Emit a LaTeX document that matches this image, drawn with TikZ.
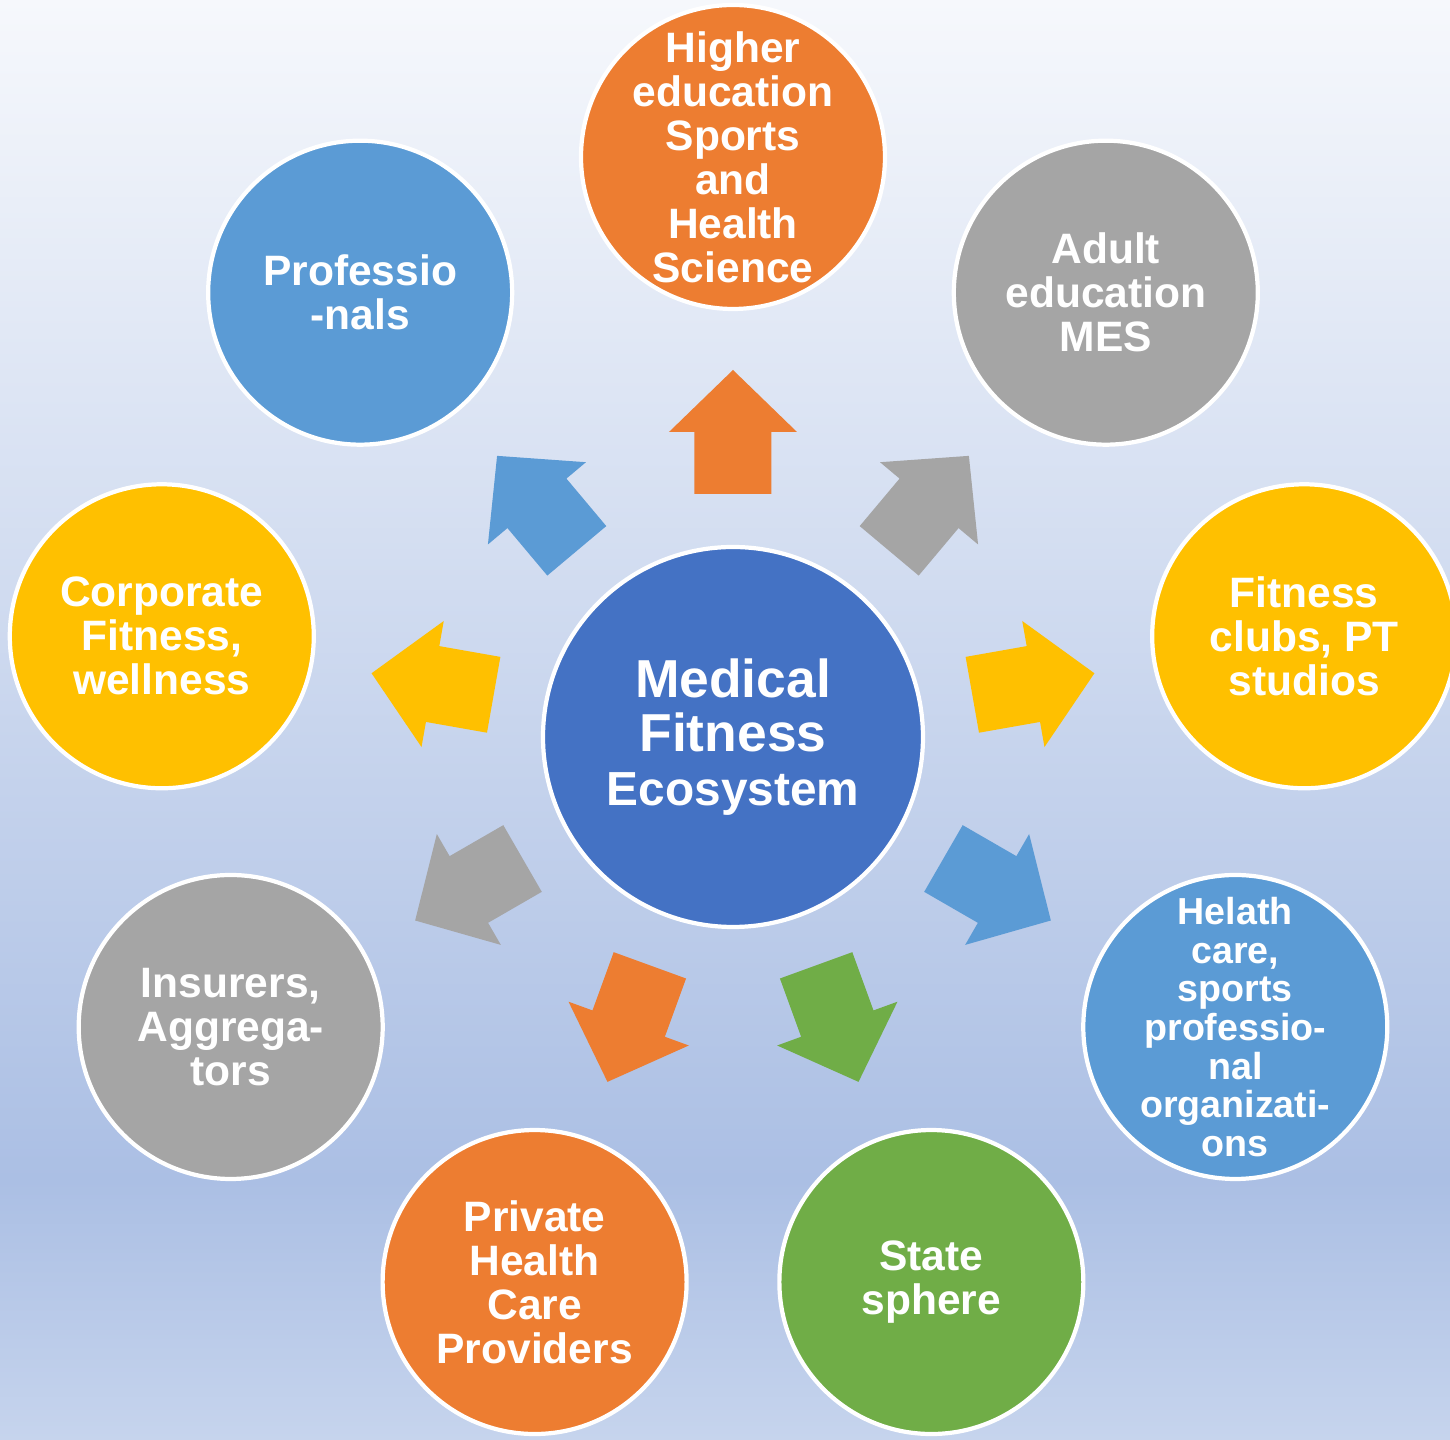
\documentclass[tikz,border=0pt]{standalone}
\usepackage{fontspec}
\setmainfont{Liberation Sans}
\usepackage{tikz}
\usetikzlibrary{arrows.meta}

\definecolor{mfblue}{HTML}{4472C4}
\definecolor{mforange}{HTML}{ED7D31}
\definecolor{mfgray}{HTML}{A5A5A5}
\definecolor{mfyellow}{HTML}{FFC000}
\definecolor{mflight}{HTML}{5B9BD5}
\definecolor{mfgreen}{HTML}{70AD47}
\definecolor{bgtop}{HTML}{F6F8FC}
\definecolor{bgmid}{HTML}{ABBFE4}
\definecolor{bgbot}{HTML}{C6D4ED}

\tikzset{
  bubble/.style={circle, draw=white, line width=1.2pt, minimum size=3.04cm,
    inner sep=-20pt, align=center, text=white,
    font=\fontsize{12.1}{12.5}\selectfont\bfseries},
  hub/.style={bubble, minimum size=3.8cm,
    font=\fontsize{15.2}{15.4}\selectfont\bfseries},
}

\begin{document}
\begin{tikzpicture}[x=0.1mm,y=0.1mm]
\useasboundingbox (-733,-703) rectangle (717,737);
\shade[top color=bgtop, bottom color=bgmid] (-733,-443) rectangle (717,737);
\shade[top color=bgmid, bottom color=bgbot] (-733,-703) rectangle (717,-443);

% centre
\node[hub, fill=mfblue] (mf) at (0,0) {Medical\\Fitness\\{\fontsize{13.6}{15.4}\selectfont Ecosystem}};

% outer circles
\node[bubble, fill=mforange] (hedu) at (90:580) {Higher\\education\\Sports\\and\\Health\\Science};
\node[bubble, fill=mfgray] (adedu) at (50:580) {Adult\\education\\MES};
\node[bubble, fill=mfyellow] (clubs) at (10:580) {Fitness\\clubs, PT\\studios};
\node[bubble, fill=mflight, font=\fontsize{10.7}{11}\selectfont\bfseries] (hcare) at (-30:580) {Helath\\care,\\sports\\professio-\\nal\\organizati-\\ons};
\node[bubble, fill=mfgreen] (state) at (-70:580) {State\\sphere};
\node[bubble, fill=mforange] (private) at (-110:580) {Private\\Health\\Care\\Providers};
\node[bubble, fill=mfgray] (insur) at (-150:580) {Insurers,\\Aggrega-\\tors};
\node[bubble, fill=mfyellow] (corp) at (170:580) {Corporate\\Fitness,\\wellness};
\node[bubble, fill=mflight] (prof) at (130:580) {Professio\\-nals};

% block arrows
\fill[mforange, rotate=90] (243,-38.5) -- (305,-38.5) -- (305,-64) -- (367,0) -- (305,64) -- (305,38.5) -- (243,38.5) -- cycle;
\fill[mfgray, rotate=50] (243,-38.5) -- (305,-38.5) -- (305,-64) -- (367,0) -- (305,64) -- (305,38.5) -- (243,38.5) -- cycle;
\fill[mfyellow, rotate=10] (243,-38.5) -- (305,-38.5) -- (305,-64) -- (367,0) -- (305,64) -- (305,38.5) -- (243,38.5) -- cycle;
\fill[mflight, rotate=-30] (243,-38.5) -- (305,-38.5) -- (305,-64) -- (367,0) -- (305,64) -- (305,38.5) -- (243,38.5) -- cycle;
\fill[mfgreen, rotate=-70] (243,-38.5) -- (305,-38.5) -- (305,-64) -- (367,0) -- (305,64) -- (305,38.5) -- (243,38.5) -- cycle;
\fill[mforange, rotate=-110] (243,-38.5) -- (305,-38.5) -- (305,-64) -- (367,0) -- (305,64) -- (305,38.5) -- (243,38.5) -- cycle;
\fill[mfgray, rotate=-150] (243,-38.5) -- (305,-38.5) -- (305,-64) -- (367,0) -- (305,64) -- (305,38.5) -- (243,38.5) -- cycle;
\fill[mfyellow, rotate=170] (243,-38.5) -- (305,-38.5) -- (305,-64) -- (367,0) -- (305,64) -- (305,38.5) -- (243,38.5) -- cycle;
\fill[mflight, rotate=130] (243,-38.5) -- (305,-38.5) -- (305,-64) -- (367,0) -- (305,64) -- (305,38.5) -- (243,38.5) -- cycle;
\end{tikzpicture}
\end{document}
